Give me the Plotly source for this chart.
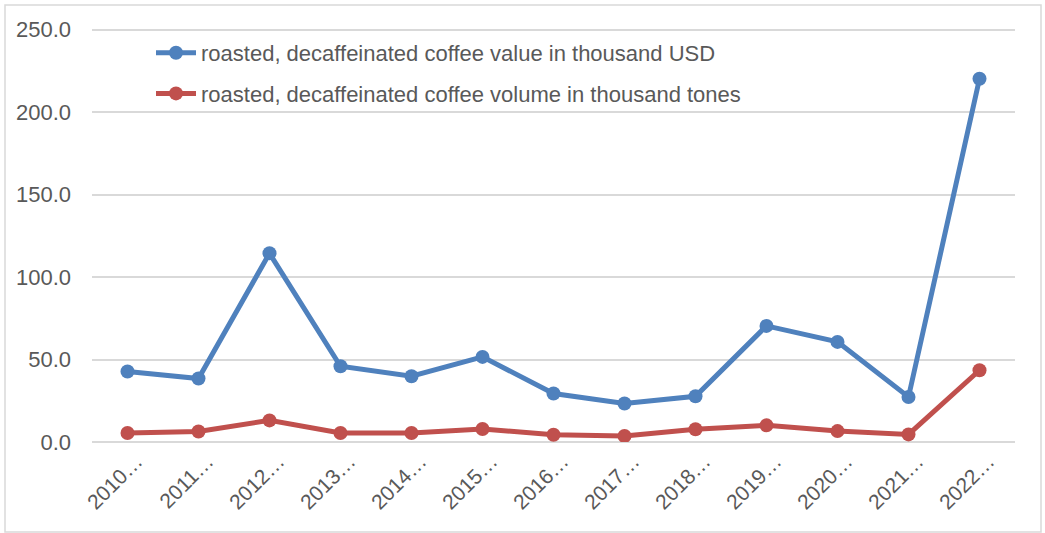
import plotly.graph_objects as go

categories = ["2010…", "2011…", "2012…", "2013…", "2014…", "2015…", "2016…",
              "2017…", "2018…", "2019…", "2020…", "2021…", "2022…"]
value_usd = [42.7, 38.5, 114.4, 45.9, 39.9, 51.6, 29.4, 23.3, 27.7, 70.4, 60.7, 27.3, 220.2]
volume_tons = [5.5, 6.4, 13.1, 5.5, 5.5, 7.9, 4.4, 3.6, 7.7, 10.1, 6.6, 4.6, 43.5]
y_ticks = [0, 50, 100, 150, 200, 250]
y_tick_labels = ["0.0", "50.0", "100.0", "150.0", "200.0", "250.0"]

BLUE = "#4f81bd"
RED = "#c0504d"
FONT = "Liberation Sans"
TXT = "#595959"

fig = go.Figure()
fig.add_trace(go.Scatter(
    x=categories, y=value_usd, mode="lines+markers",
    name="roasted, decaffeinated coffee value in thousand USD",
    line=dict(color=BLUE, width=5), marker=dict(size=14, color=BLUE),
    legendgroup="a"))
fig.add_trace(go.Scatter(
    x=categories, y=volume_tons, mode="lines+markers",
    name="roasted, decaffeinated coffee volume in thousand tones",
    line=dict(color=RED, width=5), marker=dict(size=14, color=RED),
    legendgroup="b"))

W, H = 1045, 533
ml, mr, mt, mb = 92, 30, 28, 91
pw, ph = W - ml - mr, H - mt - mb

fig.update_layout(
    width=W, height=H,
    margin=dict(l=ml, r=mr, t=mt, b=mb),
    paper_bgcolor="white", plot_bgcolor="white",
    font=dict(family=FONT, size=22, color=TXT),
    showlegend=True,
    legend=dict(x=(151 - ml) / pw, y=1 - (32 - mt) / ph, xanchor="left", yanchor="top",
                bgcolor="rgba(0,0,0,0)", font=dict(size=22, color=TXT),
                tracegroupgap=9, traceorder="grouped", itemwidth=40),
    xaxis=dict(type="category", showgrid=False, showline=False, zeroline=False,
               tickangle=-45, ticks="", tickfont=dict(size=21, color=TXT),
               ticklabelshift=9, ticklabelstandoff=2,
               range=[-0.5, len(categories) - 0.5]),
    yaxis=dict(range=[0, 251], tickvals=y_ticks, ticktext=y_tick_labels,
               showgrid=True, gridcolor="#d9d9d9", gridwidth=2,
               zeroline=True, zerolinecolor="#d9d9d9", zerolinewidth=2,
               showline=False, ticks="", tickfont=dict(size=22, color=TXT),
               ticklabelstandoff=20),
)

fig.add_shape(type="rect", xref="paper", yref="paper",
              x0=(5 - ml) / pw, x1=(1041 - ml) / pw,
              y0=1 - (532 - mt) / ph, y1=1 - (5 - mt) / ph,
              line=dict(color="#d9d9d9", width=1.5), layer="below")

fig.write_html("out.html", config={"displayModeBar": False},
               post_script="document.body.style.margin='0px';document.body.style.overflow='hidden';")
